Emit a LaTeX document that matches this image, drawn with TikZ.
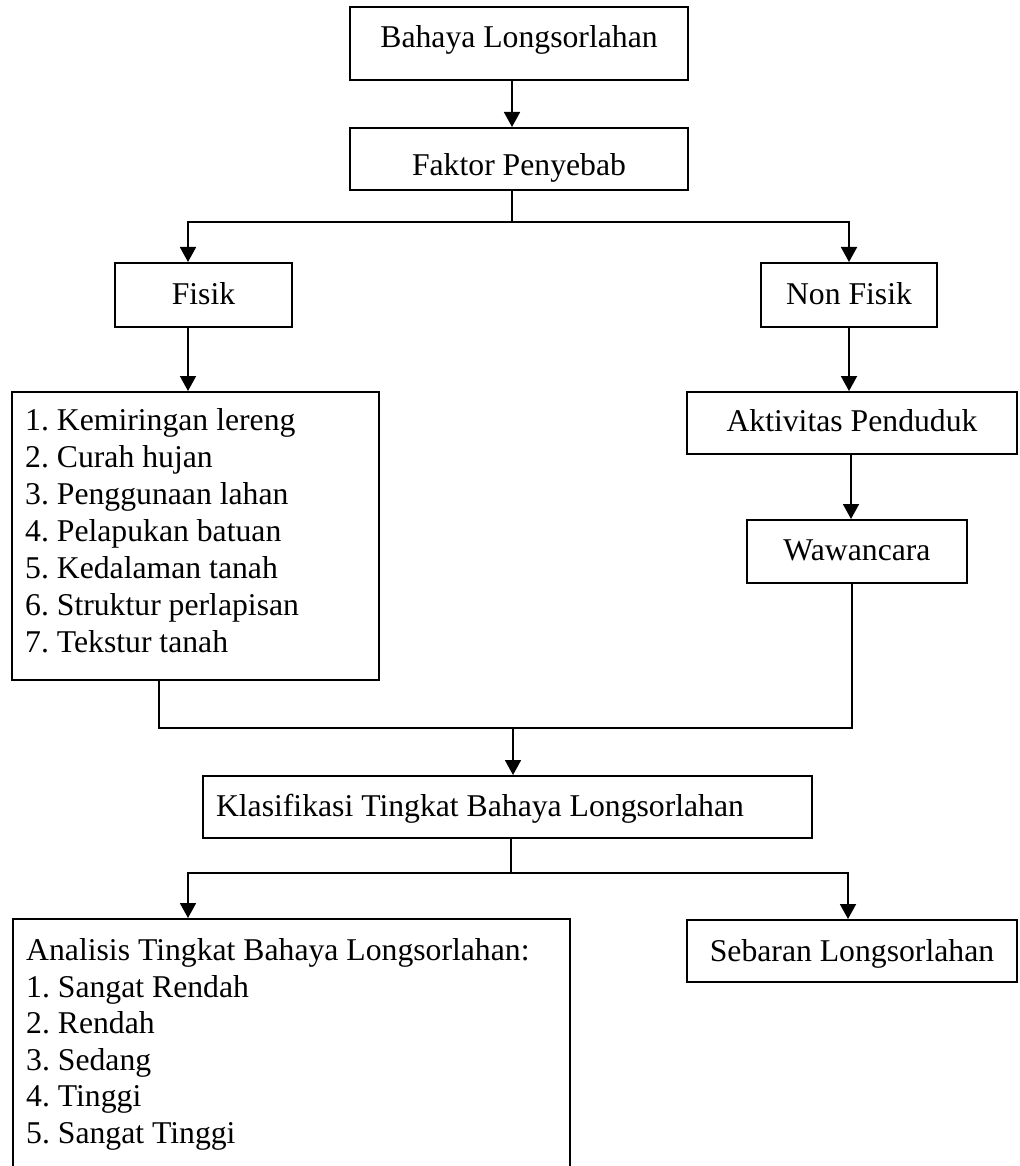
\documentclass[tikz,border=0pt]{standalone}
\usepackage{fontspec}
\setmainfont{Liberation Serif}
\usetikzlibrary{arrows.meta}
\frenchspacing
\begin{document}
\begin{tikzpicture}[x=1pt,y=-1pt,
  box/.style={draw,line width=2pt,rectangle,inner sep=0pt,text depth=7pt,
    font=\fontsize{31.7}{37}\selectfont},
  conn/.style={line width=1.8pt},
  arr/.style={conn,-{Triangle[length=15pt,width=16pt]}},
  txt/.style={inner sep=0pt,anchor=north west,align=flush left}]
\clip (0,0) rectangle (1019,1166);
\fill[white] (0,0) rectangle (1019,1166);
% boxes
\node[box,minimum width=338pt,minimum height=73pt,text height=15.4pt] (b1) at (519,43.5) {Bahaya Longsorlahan};
\node[box,minimum width=338pt,minimum height=62pt,text height=41pt] (b2) at (519,159) {Faktor Penyebab};
\node[box,minimum width=177pt,minimum height=64pt,text height=26.4pt] (fisik) at (203.5,295) {Fisik};
\node[box,minimum width=176pt,minimum height=64pt,text height=26.4pt] (nonfisik) at (849,295) {Non Fisik};
\node[box,minimum width=367pt,minimum height=288pt] (list) at (195.5,536) {};
\node[txt,font=\fontsize{31.7}{37}\selectfont] (listtext) at (25,408.3) {1. Kemiringan lereng\\2. Curah hujan\\3. Penggunaan lahan\\4. Pelapukan batuan\\5. Kedalaman tanah\\6. Struktur perlapisan\\7. Tekstur tanah};
\node[box,minimum width=330pt,minimum height=61.5pt,text height=24.8pt] (aktiv) at (852,422.8) {Aktivitas Penduduk};
\node[box,minimum width=220pt,minimum height=63pt,text height=24.4pt] (waw) at (857,551.5) {Wawancara};
\node[box,minimum height=62pt,text width=583pt,inner xsep=13pt,align=flush left,text height=26.8pt] (klas) at (507.5,807) {Klasifikasi Tingkat Bahaya Longsorlahan};
\node[box,minimum width=557pt,minimum height=261pt] (ana) at (291.5,1049.5) {};
\node[txt,font=\fontsize{31.7}{36.6}\selectfont] (anatext) at (26,938.3) {Analisis Tingkat Bahaya Longsorlahan:\\1. Sangat Rendah\\2. Rendah\\3. Sedang\\4. Tinggi\\5. Sangat Tinggi};
\node[box,minimum width=330pt,minimum height=62pt,text height=28.4pt] (seb) at (852,951) {Sebaran Longsorlahan};
% junction points
\coordinate (m0) at (512,222);
\coordinate (m1) at (513,728);
\coordinate (m2) at (511,873);
% connectors
\draw[arr] (b1.south -| m0) -- (b2.north -| m0);
\draw[conn] (b2.south -| m0) -- (m0);
\draw[arr] (m0) -| (fisik.north -| 188,0);
\draw[arr] (m0) -| (nonfisik.north -| 849,0);
\draw[arr] (fisik.south -| 188,0) -- (list.north -| 188,0);
\draw[arr] (nonfisik.south -| 849,0) -- (aktiv.north -| 849,0);
\draw[arr] (aktiv.south -| 851,0) -- (waw.north -| 851,0);
\draw[conn] (list.south -| 159,0) |- (m1) -| (waw.south -| 852,0);
\draw[arr] (m1) -- (klas.north -| m1);
\draw[conn] (klas.south -| m2) -- (m2);
\draw[arr] (m2) -| (ana.north -| 188,0);
\draw[arr] (m2) -| (seb.north -| 848,0);
\end{tikzpicture}
\end{document}
